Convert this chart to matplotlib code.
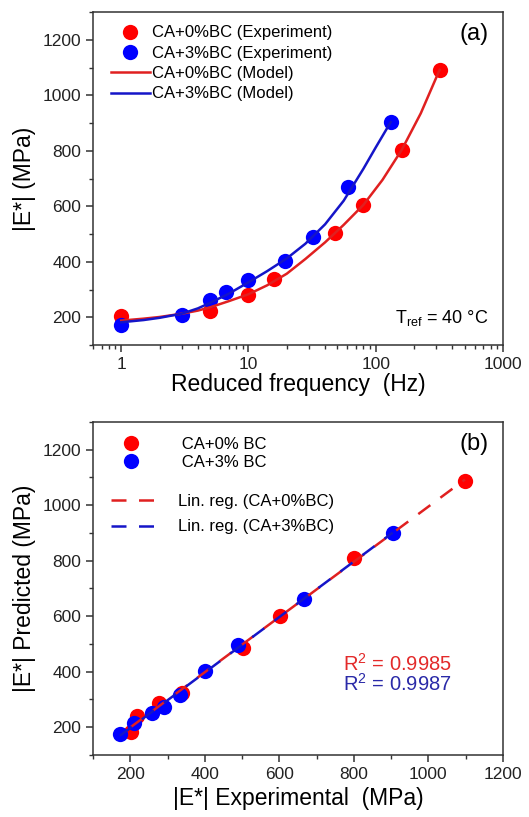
import numpy as np
import matplotlib
matplotlib.use('Agg')
from matplotlib import pyplot as plt
from matplotlib.ticker import MultipleLocator, FixedLocator, FixedFormatter, LogLocator, NullFormatter

plt.rcParams['font.family'] = ['Liberation Sans', 'DejaVu Sans']
plt.rcParams['mathtext.fontset'] = 'custom'
plt.rcParams['mathtext.rm'] = 'Liberation Sans'
plt.rcParams['mathtext.it'] = 'Liberation Sans:italic'

# panel (a) experiment points
freq_0 = [1, 5, 10, 16, 48, 80, 160, 318]
e_0 = [205, 222, 280, 337, 504, 604, 803, 1092]
freq_3 = [1, 3, 5, 6.6, 10, 19.5, 32, 61, 131]
e_3 = [172, 208, 262, 290, 333, 402, 489, 668, 903]

# panel (a) model curves
model_freq_0 = [1, 1.5, 2, 3, 4, 5, 7, 10, 14, 20, 28, 40, 56, 80, 113, 160, 226, 318]
model_e_0 = [188, 195, 201, 213, 224, 236, 258, 283, 315, 357, 410, 470, 533, 605, 695, 803, 935, 1092]
model_freq_3 = [1, 1.5, 2, 3, 4, 5, 7, 10, 14, 20, 28, 40, 56, 80, 100, 131]
model_e_3 = [182, 190, 198, 213, 232, 252, 285, 326, 366, 412, 465, 535, 620, 735, 812, 903]

# panel (b) experimental vs predicted
exp_0 = [202, 219, 277, 339, 503, 603, 801, 1098]
pred_0 = [184, 241, 286, 325, 487, 602, 811, 1088]
exp_3 = [172, 210, 257, 290, 333, 400, 488, 667, 904]
pred_3 = [175, 217, 250, 274, 316, 404, 497, 663, 900]

r2_labels = ['R$^2$ = 0.9985', 'R$^2$ = 0.9987']

red_m = '#ff0000'
blue_m = '#0000ff'
red_l = '#e02020'
blue_l = '#1515c8'

my_dpi = 100
fig = plt.figure(figsize=(529 / my_dpi, 817 / my_dpi), dpi=my_dpi)
ax1 = fig.add_axes([0.1758, 0.5777, 0.775, 0.4076])
ax2 = fig.add_axes([0.1758, 0.0759, 0.775, 0.4076])

ms = 11
tick_fs = 12.5
label_fs = 16.5
dash = (6, 5)

# ---- panel (a)
ax1.plot(freq_0, e_0, 'o', color=red_m, ms=ms, mec='none', label='CA+0%BC (Experiment)', zorder=3)
ax1.plot(freq_3, e_3, 'o', color=blue_m, ms=ms, mec='none', label='CA+3%BC (Experiment)', zorder=3)
ax1.plot(model_freq_0, model_e_0, '-', color=red_l, lw=1.8, label='CA+0%BC (Model)', zorder=4)
ax1.plot(model_freq_3, model_e_3, '-', color=blue_l, lw=1.8, label='CA+3%BC (Model)', zorder=4)
ax1.set_xscale('log')
ax1.set_xlim(0.6, 1000)
ax1.set_ylim(100, 1300)
ax1.xaxis.set_major_locator(FixedLocator([1, 10, 100, 1000]))
ax1.xaxis.set_major_formatter(FixedFormatter(['1', '10', '100', '1000']))
ax1.xaxis.set_minor_locator(LogLocator(base=10, subs=np.arange(2, 10), numticks=20))
ax1.xaxis.set_minor_formatter(NullFormatter())
ax1.yaxis.set_major_locator(MultipleLocator(200))
ax1.yaxis.set_minor_locator(MultipleLocator(100))
ax1.set_xlabel('Reduced frequency  (Hz)', fontsize=label_fs, labelpad=1)
ax1.set_ylabel('|E*| (MPa)', fontsize=label_fs, labelpad=5)
ax1.legend(loc='upper left', fontsize=12, frameon=False, handlelength=2.3,
           handletextpad=0.15, labelspacing=0.32, borderaxespad=0.2,
           bbox_to_anchor=(0.02, 0.99))
ax1.text(0.965, 0.935, '(a)', transform=ax1.transAxes, ha='right', va='center', fontsize=17)
ax1.text(0.965, 0.08, r'T$_{\mathrm{ref}}$ = 40 °C', transform=ax1.transAxes,
         ha='right', va='center', fontsize=13)

# ---- panel (b)
ax2.plot(exp_0, pred_0, 'o', color=red_m, ms=ms, mec='none', zorder=3)
ax2.plot(exp_3, pred_3, 'o', color=blue_m, ms=ms, mec='none', zorder=3)
k0, b0 = np.polyfit(exp_0, pred_0, 1)
k3, b3 = np.polyfit(exp_3, pred_3, 1)
xx0 = np.array([min(exp_0), max(exp_0)])
xx3 = np.array([min(exp_3), max(exp_3)])
ax2.plot(xx0, k0 * xx0 + b0, '--', color=red_l, lw=1.8, dashes=dash, zorder=4)
ax2.plot(xx3, k3 * xx3 + b3, '--', color=blue_l, lw=1.8, dashes=dash, zorder=4)
ax2.set_xlim(100, 1200)
ax2.set_ylim(100, 1300)
ax2.xaxis.set_major_locator(MultipleLocator(200))
ax2.xaxis.set_minor_locator(MultipleLocator(100))
ax2.yaxis.set_major_locator(MultipleLocator(200))
ax2.yaxis.set_minor_locator(MultipleLocator(100))
ax2.set_xlabel('|E*| Experimental  (MPa)', fontsize=label_fs, labelpad=4)
ax2.set_ylabel('|E*| Predicted (MPa)', fontsize=label_fs, labelpad=5)

h1, = ax2.plot([], [], 'o', color=red_m, ms=ms, mec='none')
h2, = ax2.plot([], [], 'o', color=blue_m, ms=ms, mec='none')
leg1 = ax2.legend([h1, h2], ['      CA+0% BC', '      CA+3% BC'], loc='upper left', fontsize=12,
                  frameon=False, handlelength=2.4, handletextpad=0.15, labelspacing=0.2,
                  bbox_to_anchor=(0.02, 0.985), borderaxespad=0.2)
ax2.add_artist(leg1)
h3, = ax2.plot([], [], '--', color=red_l, lw=1.8, dashes=dash)
h4, = ax2.plot([], [], '--', color=blue_l, lw=1.8, dashes=dash)
ax2.legend([h3, h4], ['Lin. reg. (CA+0%BC)', 'Lin. reg. (CA+3%BC)'], loc='upper left', fontsize=12,
           frameon=False, handlelength=3.0, handletextpad=1.0, labelspacing=0.65,
           bbox_to_anchor=(0.02, 0.815), borderaxespad=0.2)
ax2.text(0.965, 0.935, '(b)', transform=ax2.transAxes, ha='right', va='center', fontsize=17)
ax2.text(0.61, 0.275, r2_labels[0], transform=ax2.transAxes, ha='left', va='center',
         fontsize=14.5, color='#e32a2a')
ax2.text(0.61, 0.215, r2_labels[1], transform=ax2.transAxes, ha='left', va='center',
         fontsize=14.5, color='#2a2aa8')

for ax in (ax1, ax2):
    for sp in ax.spines.values():
        sp.set_linewidth(1.1)
        sp.set_color('#333333')
    ax.tick_params(which='major', direction='out', length=5, width=1.1, labelsize=tick_fs,
                   colors='#333333', labelcolor='#222222')
    ax.tick_params(which='minor', direction='out', length=3, width=1.0, colors='#333333')
    ax.tick_params(top=False, right=False, which='both')

plt.savefig('out.png', dpi=my_dpi)
plt.close()
